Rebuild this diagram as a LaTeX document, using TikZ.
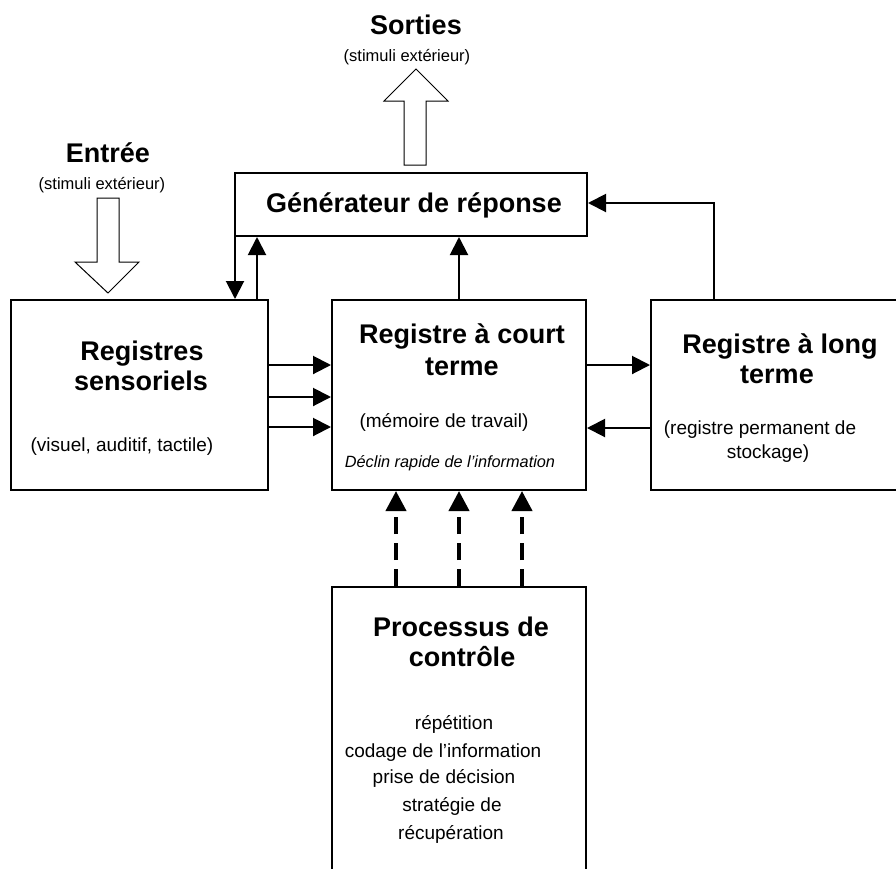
\documentclass[tikz,border=0pt]{standalone}
\usepackage{fontspec}
\setmainfont{Liberation Sans}
\usetikzlibrary{arrows.meta}
\tikzset{
  box/.style={draw, line width=2pt, fill=none, inner sep=0pt},
  arr/.style={line width=2pt, -{Triangle[length=18pt,width=18pt]}},
  darr/.style={line width=4pt, dash pattern=on 17pt off 9pt, -{Triangle[length=20pt,width=20pt]}},
  hollow/.style={draw, line width=1pt, fill=white},
  big/.style={font=\fontsize{27}{30}\selectfont\bfseries, anchor=base, inner sep=0pt},
  reg/.style={font=\fontsize{19}{22}\selectfont, anchor=base, inner sep=0pt},
  small/.style={font=\fontsize{16.5}{19}\selectfont, anchor=base, inner sep=0pt},
  ital/.style={font=\fontsize{16.3}{19}\selectfont\itshape, anchor=base, inner sep=0pt},
}
\begin{document}
\begin{tikzpicture}[x=1pt,y=-1pt]
\clip (0,0) rectangle (896,868);
\fill[white] (0,0) rectangle (896,868);
% boxes
\node[box, minimum width=352pt, minimum height=63pt] (gen) at (411,204.5) {};
\node[box, minimum width=257pt, minimum height=190pt] (sens) at (139.5,395) {};
\node[box, minimum width=254pt, minimum height=190pt] (stm) at (459,395) {};
\node[box, minimum width=249pt, minimum height=190pt] (ltm) at (775.5,395) {};
\node[box, minimum width=254pt, minimum height=313pt] (ctrl) at (459,743.5) {};
% texts
\node[big] (tsort) at (416,34) {Sorties};
\node[small] (tsort2) at (407,61) {(stimuli extérieur)};
\node[big] (tentr) at (108,162) {Entrée};
\node[small] (tentr2) at (102,189) {(stimuli extérieur)};
\node[big] (tgen) at (414,212) {Générateur de réponse};
\node[big] (tsens1) at (142,360) {Registres};
\node[big] (tsens2) at (141,390) {sensoriels};
\node[reg] (tsens3) at (122,451) {(visuel, auditif, tactile)};
\node[big] (tstm1) at (462,343) {Registre à court};
\node[big] (tstm2) at (462,375) {terme};
\node[reg] (tstm3) at (444,427) {(mémoire de travail)};
\node[ital] (tstm4) at (450,467.5) {Déclin rapide de l’information};
\node[big] (tltm1) at (780,353) {Registre à long};
\node[big] (tltm2) at (777,383) {terme};
\node[reg] (tltm3) at (760,434) {(registre permanent de};
\node[reg] (tltm4) at (768,458) {stockage)};
\node[big] (tctrl1) at (461,636) {Processus de};
\node[big] (tctrl2) at (462,666) {contrôle};
\node[reg] (tc1) at (454,729) {répétition};
\node[reg] (tc2) at (443,757) {codage de l’information};
\node[reg] (tc3) at (444,783) {prise de décision};
\node[reg] (tc4) at (452,811) {stratégie de};
\node[reg] (tc5) at (451,839) {récupération};
% hollow arrows
\draw[hollow] (404,165) -- (426,165) -- (426,101) -- (448,101) -- (416,69) -- (384,101) -- (404,101) -- cycle;
\draw[hollow] (97,198) -- (119,198) -- (119,262) -- (139,262) -- (108,293) -- (75,262) -- (97,262) -- cycle;
% coordinates for connector columns/rows
\coordinate (xa) at (235,0);
\coordinate (xb) at (257,0);
\coordinate (xc) at (459,0);
\coordinate (xd) at (714,0);
\coordinate (y1) at (0,365);
\coordinate (y2) at (0,397);
\coordinate (y3) at (0,427);
\coordinate (y4) at (0,428);
\coordinate (y5) at (0,203);
\coordinate (x1) at (396,0);
\coordinate (x2) at (459,0);
\coordinate (x3) at (522,0);
% connectors
\draw[arr] (gen.south -| xa) -- (sens.north -| xa);
\draw[arr] (sens.north -| xb) -- (gen.south -| xb);
\draw[arr] (stm.north -| xc) -- (gen.south -| xc);
\draw[arr] (sens.east |- y1) -- (stm.west |- y1);
\draw[arr] (sens.east |- y2) -- (stm.west |- y2);
\draw[arr] (sens.east |- y3) -- (stm.west |- y3);
\draw[arr] (stm.east |- y1) -- (ltm.west |- y1);
\draw[arr] (ltm.west |- y4) -- (stm.east |- y4);
\draw[arr] (ltm.north -| xd) |- (gen.east |- y5);
\draw[darr] (ctrl.north -| x1) -- (stm.south -| x1);
\draw[darr] (ctrl.north -| x2) -- (stm.south -| x2);
\draw[darr] (ctrl.north -| x3) -- (stm.south -| x3);
\end{tikzpicture}
\end{document}
